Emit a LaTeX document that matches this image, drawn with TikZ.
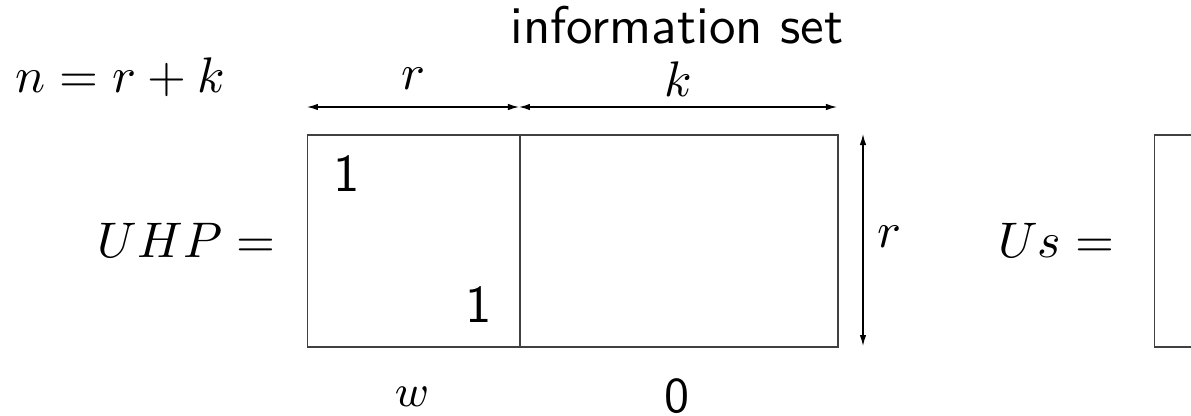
\documentclass[tikz,border=0pt]{standalone}
\usetikzlibrary{arrows.meta,positioning}
\tikzset{
  blk/.style={draw=black!75,line width=0.3pt,inner sep=0pt,minimum height=42.4pt,anchor=north west},
  lbl/.style={inner sep=0pt,font=\fontsize{10.2}{12.2}\selectfont},
  lsf/.style={inner sep=0pt,font=\fontsize{10.6}{12.7}\selectfont\sffamily},
  lbs/.style={inner sep=0pt,font=\fontsize{9}{10.8}\selectfont},
  dim/.style={{Latex[length=2.2pt,width=1.3pt]}-{Latex[length=2.2pt,width=1.3pt]},line width=0.25pt},
}

\begin{document}
\begin{tikzpicture}[x=0.2pt,y=-0.2pt]
\clip (0,0) rectangle (1191,415);
% matrix blocks
\node[blk,minimum width=42.4pt] (idn) at (307,134) {};
\node[blk,minimum width=63.6pt] (inf) at (519,134) {};
\node[blk,minimum width=30pt] (usm) at (1154,134) {};
\node[lsf] (one1) at (347,174) {1};
\node[lsf] (one2) at (479,305) {1};
% left hand sides
\node[lbl,anchor=east] (uhp) at (276,240) {$UHP =$};
\node[lbl,anchor=east] (usl) at (1115,240) {$Us =$};
\node[lbl,font=\fontsize{9.8}{11.8}\selectfont] (nrk) at (120,77) {$n = r + k$};
% dimensions
\coordinate (rl) at (307,107);
\coordinate (rm) at (519,107);
\coordinate (kr) at (837,107);
\coordinate (vt) at (863,134);
\coordinate (vb) at (863,346);
\draw[dim] (rl) -- (rm);
\draw[dim] (rm) -- (kr);
\draw[dim] (vt) -- (vb);
\node[lbl] (rtop) at (413,79) {$r$};
\node[lbl] (ktop) at (678,79) {$k$};
\node[lbl] (rside) at (889,237) {$r$};
\node[lsf] (info) at (677,25) {information set};
% below
\node[lbs] (wlab) at (412,397) {$w$};
\node[lbs,font=\sffamily] (zlab) at (677,396) {0};
\end{tikzpicture}
\end{document}
